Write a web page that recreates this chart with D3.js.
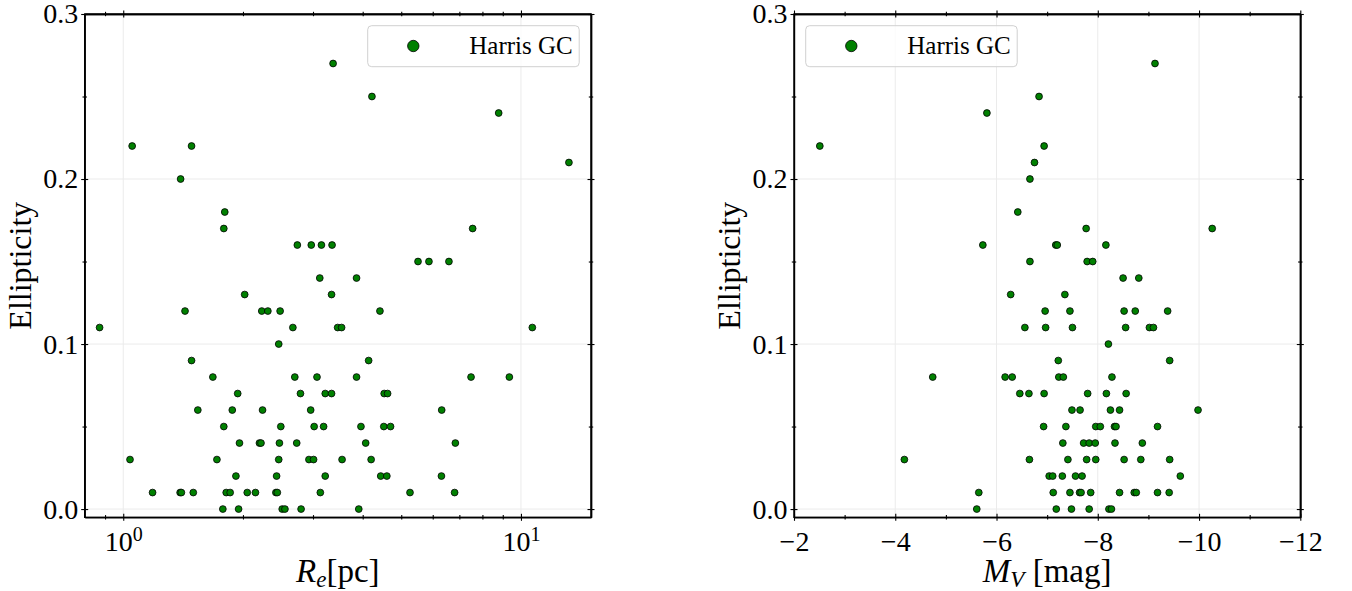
<!DOCTYPE html>
<html>
<head>
<meta charset="utf-8">
<script src="https://cdn.jsdelivr.net/npm/d3@7/dist/d3.min.js"></script>
<style>
  body { margin: 0; background: #fff; }
  svg { display: block; }
  svg text { font-family: "Liberation Serif", "DejaVu Serif", serif; fill: #000; }
</style>
</head>
<body>
<script>
'use strict';

// ellipticity values (catalogue gives two decimals), shared by both panels
const ellLevels = [0.27, 0.25, 0.24, 0.22, 0.21, 0.20, 0.18, 0.17, 0.16, 0.15, 0.14, 0.13,
                   0.12, 0.11, 0.10, 0.09, 0.08, 0.07, 0.06, 0.05, 0.04, 0.03, 0.02, 0.01, 0.00];

// effective radius R_e [pc] of the clusters at each ellipticity level
const reByLevel = [
  [3.37],
  [4.22],
  [8.79],
  [1.053, 1.485],
  [13.2],
  [1.394],
  [1.80],
  [1.79, 7.56],
  [2.74, 2.97, 3.15, 3.35],
  [5.51, 5.87, 6.59],
  [3.12, 3.86],
  [2.02, 3.34],
  [1.43, 2.23, 2.31, 2.48, 4.42],
  [0.872, 2.67, 3.46, 3.54, 10.68],
  [2.46],
  [1.485, 4.14],
  [1.68, 2.70, 3.07, 3.86, 7.49, 9.35],
  [1.94, 2.79, 3.22, 3.34, 4.53, 4.62],
  [1.54, 1.88, 2.24, 2.96, 6.32],
  [1.79, 2.49, 3.02, 3.19, 3.96, 4.52, 4.70],
  [1.96, 2.20, 2.22, 2.47, 2.73, 4.07, 6.84],
  [1.04, 1.72, 2.46, 2.93, 3.01, 3.55, 4.20],
  [1.92, 2.43, 3.22, 4.44, 4.60, 6.31],
  [1.185, 1.39, 1.40, 1.50, 1.815, 1.857, 2.05, 2.15, 2.42, 2.44, 3.13, 5.26, 6.81],
  [1.78, 1.95, 2.51, 2.55, 2.80, 3.91]
];

// absolute V magnitude M_V [mag] at each ellipticity level
const mvByLevel = [
  [-9.13],
  [-6.84],
  [-5.81],
  [-2.51, -6.94],
  [-6.75],
  [-6.66],
  [-6.42],
  [-7.77, -10.26],
  [-5.73, -7.17, -7.20, -8.16],
  [-6.66, -7.79, -7.90],
  [-8.50, -8.81],
  [-6.28, -7.35],
  [-6.96, -7.45, -8.52, -8.74, -9.38],
  [-6.56, -6.97, -7.50, -8.55, -9.02, -9.10],
  [-8.21],
  [-7.22, -9.42],
  [-4.74, -6.17, -6.31, -7.23, -7.32, -8.28],
  [-6.46, -6.64, -6.94, -7.80, -8.17, -8.56],
  [-7.49, -7.65, -8.25, -8.43, -9.98],
  [-6.93, -7.37, -7.96, -8.05, -8.33, -8.36, -9.18],
  [-7.31, -7.72, -7.83, -7.95, -8.34, -8.88],
  [-4.18, -6.65, -7.41, -7.78, -7.96, -8.52, -8.85, -9.42],
  [-7.04, -7.11, -7.30, -7.56, -7.69, -9.63],
  [-5.65, -7.12, -7.45, -7.64, -7.67, -7.86, -8.43, -8.72, -8.76, -9.18, -9.41],
  [-5.61, -7.18, -7.48, -7.83, -8.22, -8.27]
];

// ticks
const yTicks = [0.0, 0.1, 0.2, 0.3],
      yMinor = [0.05, 0.15, 0.25],
      reTicks = [1, 10],
      reMinor = [0.9, 2, 3, 4, 5, 6, 7, 8, 9],
      mvTicks = [-2, -4, -6, -8, -10, -12],
      mvMinor = [-3, -5, -7, -9, -11],
      legendLabel = 'Harris GC';

const W = 1352, H = 591,
      plotTop = 14, plotBottom = 517.3,
      svg = d3.select('body').append('svg').attr('width', W).attr('height', H);

function toPoints(rows) {
  return d3.merge(rows.map((row, i) => row.map(v => ({ v: v, e: ellLevels[i] }))));
}

function drawPanel(p) {
  const x = p.x,
        y = d3.scaleLinear().domain([-0.005, 0.3]).range([plotBottom, plotTop]),
        [x0, x1] = x.range(),
        g = svg.append('g');

  // grid
  g.append('g').selectAll('line').data(yTicks).join('line')
    .attr('x1', x0).attr('x2', x1)
    .attr('y1', d => y(d)).attr('y2', d => y(d))
    .attr('stroke', '#ebebeb').attr('stroke-width', 1);
  g.append('g').selectAll('line').data(p.ticks).join('line')
    .attr('x1', d => x(d)).attr('x2', d => x(d))
    .attr('y1', plotTop).attr('y2', plotBottom)
    .attr('stroke', '#ebebeb').attr('stroke-width', 1);

  // points
  g.append('g').selectAll('circle').data(p.points).join('circle')
    .attr('cx', d => x(d.v))
    .attr('cy', d => y(d.e))
    .attr('r', 3.4)
    .attr('fill', '#008000')
    .attr('stroke', '#000')
    .attr('stroke-width', 0.8);

  // axes: ticks go in and out of the spine
  function axis(fn, scale, vals, tx, ty, len, fmt, vertical) {
    const a = fn(scale).tickValues(vals).tickSize(len).tickSizeOuter(0);
    if (!fmt) a.tickFormat('');
    else if (fmt !== true) a.tickFormat(fmt);
    const ag = g.append('g').attr('transform', `translate(${tx},${ty})`).call(a);
    ag.select('.domain').attr('stroke', '#000').attr('stroke-width', 1.4);
    ag.selectAll('.tick line').attr('stroke', '#000').attr('stroke-width', 1.1);
    if (vertical) ag.selectAll('.tick line').attr('x1', -len).attr('x2', len);
    else ag.selectAll('.tick line').attr('y1', -len).attr('y2', len);
    ag.selectAll('.tick text').attr('font-size', 28);
    return ag;
  }

  const xb = axis(d3.axisBottom, x, p.ticks, 0, plotBottom, 3.5, p.fmt, false);
  xb.call(a => a.select('.domain').remove());
  xb.selectAll('.tick text').attr('y', 13.8);
  if (p.log) {
    xb.selectAll('.tick text').each(function(d) {
      const t = d3.select(this);
      t.text(null);
      t.append('tspan').text('10');
      t.append('tspan').attr('dy', '-0.5em').attr('font-size', 20).text(Math.round(Math.log10(d)));
    });
  }
  axis(d3.axisBottom, x, p.minor, 0, plotBottom, 2.2, false, false);
  axis(d3.axisTop, x, p.ticks, 0, plotTop, 3.5, false, false);
  axis(d3.axisTop, x, p.minor, 0, plotTop, 2.2, false, false);

  const yl = axis(d3.axisLeft, y, yTicks, x0, 0, 3.5, d3.format('.1f'), true);
  yl.call(a => a.select('.domain').remove());
  yl.selectAll('.tick text').attr('x', -6.5);
  axis(d3.axisLeft, y, yMinor, x0, 0, 2.2, false, true);
  axis(d3.axisRight, y, yTicks, x1, 0, 3.5, false, true);
  axis(d3.axisRight, y, yMinor, x1, 0, 2.2, false, true);

  // spines
  g.append('rect')
    .attr('x', x0).attr('y', plotTop)
    .attr('width', x1 - x0).attr('height', plotBottom - plotTop)
    .attr('fill', 'none').attr('stroke', '#000').attr('stroke-width', 1.4);

  // y label
  g.append('text')
    .attr('transform', `translate(${x0 - 54},${(plotTop + plotBottom) / 2}) rotate(-90)`)
    .attr('text-anchor', 'middle')
    .attr('font-size', 32)
    .text('Ellipticity');

  // x label
  const xl = g.append('text')
    .attr('x', (x0 + x1) / 2).attr('y', p.labelY)
    .attr('text-anchor', 'middle')
    .attr('font-size', 33);
  xl.append('tspan').attr('font-style', 'italic').text(p.sym);
  xl.append('tspan').attr('font-style', 'italic').attr('font-size', 23).attr('dy', 5).text(p.sub);
  xl.append('tspan').attr('dy', -5).text(p.unit);

  // legend
  const lg = g.append('g').attr('transform', `translate(${p.legendX},25.7)`);
  lg.append('rect')
    .attr('width', 211.5).attr('height', 41).attr('rx', 4)
    .attr('fill', '#fff').attr('fill-opacity', 0.8)
    .attr('stroke', '#d0d0d0').attr('stroke-width', 1);
  lg.append('circle')
    .attr('cx', 45.6).attr('cy', 20.3).attr('r', 5.7)
    .attr('fill', '#008000').attr('stroke', '#000').attr('stroke-width', 0.8);
  lg.append('text')
    .attr('x', 101.6).attr('y', 28)
    .attr('font-size', 25)
    .attr('fill', '#222')
    .text(legendLabel);
}

drawPanel({
  x: d3.scaleLog().domain([0.8, 15]).range([84.7, 591]),
  log: true,
  ticks: reTicks,
  minor: reMinor,
  fmt: true,
  points: toPoints(reByLevel),
  sym: 'R', sub: 'e', unit: '[pc]',
  labelY: 582,
  legendX: 367.7
});

drawPanel({
  x: d3.scaleLinear().domain([-2, -12]).range([794, 1300.3]),
  log: false,
  ticks: mvTicks,
  minor: mvMinor,
  fmt: d => '\u2212' + Math.abs(d),
  points: toPoints(mvByLevel),
  sym: 'M', sub: 'V', unit: ' [mag]',
  labelY: 582,
  legendX: 805.7
});
</script>
</body>
</html>
